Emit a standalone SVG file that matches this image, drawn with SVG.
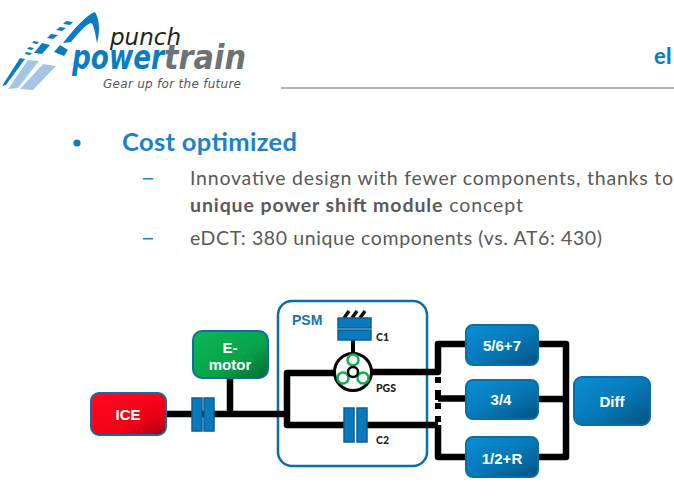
<svg xmlns="http://www.w3.org/2000/svg" width="674" height="499" viewBox="0 0 674 499">
<defs>
<linearGradient id="gb" x1="0" y1="0" x2="1" y2="1"><stop offset="0" stop-color="#0a8fd6"/><stop offset=".55" stop-color="#0677b5"/><stop offset="1" stop-color="#04507f"/></linearGradient>
<linearGradient id="gr" x1="0" y1="0" x2="1" y2="1"><stop offset="0" stop-color="#ff0a22"/><stop offset=".65" stop-color="#f00018"/><stop offset="1" stop-color="#a80012"/></linearGradient>
<linearGradient id="gg" x1="0" y1="0" x2="1" y2="1"><stop offset="0" stop-color="#0bb855"/><stop offset=".6" stop-color="#08a24a"/><stop offset="1" stop-color="#046a32"/></linearGradient>
</defs>
<style>
text{font-family:"Lato","Liberation Sans",sans-serif}
.t{font-size:19.5px;fill:#595959}
.d{fill:#1b82c8}
.n{font-family:"Liberation Sans",Arial,sans-serif;font-weight:700;font-size:15px;fill:#fff;text-anchor:middle}
.s{font-weight:900;font-size:10.5px;fill:#222}
.box{stroke:#0b6ea6;stroke-width:2;fill:url(#gb)}
.w{fill:none;stroke:#000;stroke-width:6.5;stroke-linejoin:round}
.cl{fill:#0a79bd;stroke:#0b5f92;stroke-width:1.5}
.l1{fill:#0a7cc4}.l2{fill:#a3c6e6}
.lg{font-family:"DejaVu Sans",sans-serif;font-style:italic}
</style>
<rect width="674" height="499" fill="#fff"/>
<g id="logo">
<path class="l1" d="M63 43 C74 29 86 15 95 12 C100 20 100 33 97 43 C95 33 94 24 91 23 C85 25 77 35 71 42Z"/>
<path class="l1" d="M66 21l7 1-3 3-7-1zM60 27l6 1-4 3-6-1zM51 34l7 1-5 4-6-1zM42 43l8 2-8 9-8-1zM34 41l5 1-2 2-5-1zM29 47l5 1-2 2-5-1zM26 52l6 1-2 2-5-1zM20 58l5 1-19 26-4 1z"/>
<path class="l1" d="M60 45l8 5-4 6-10-4z"/>
<path class="l2" d="M28 60l11 1-21 27-10 1zM43 64l13 2-23 24-13-1z"/>
<text class="lg" x="110" y="45" font-size="23" fill="#222">punch</text>
<text class="lg" x="72" y="69" font-size="33" font-weight="700" fill="#0a7cc4" textLength="92" lengthAdjust="spacingAndGlyphs">power</text>
<text class="lg" x="164" y="69" font-size="33" font-weight="700" fill="#6f7275" textLength="82" lengthAdjust="spacingAndGlyphs">train</text>
<text class="lg" x="103" y="88" font-size="12" fill="#555" textLength="138">Gear up for the future</text>
</g>
<rect x="281" y="87" width="393" height="2" fill="#b5b5b5"/>
<text x="654" y="64" font-size="22" font-weight="700" fill="#0a7cc4">eI</text>
<g id="content">
<circle cx="77" cy="143" r="3.6" fill="#0a7cc4"/>
<text x="122" y="151" font-size="25.5" font-weight="700" fill="#1b82c8" textLength="175">Cost optimized</text>
<rect class="d" x="143" y="178" width="10" height="1.5"/>
<text class="t" x="190" y="185" textLength="483">Innovative design with fewer components, thanks to</text>
<text class="t" x="190" y="212" textLength="333"><tspan font-weight="700">unique power shift module</tspan> concept</text>
<rect class="d" x="143" y="238" width="10" height="1.5"/>
<text class="t" x="190" y="245" textLength="412">eDCT: 380 unique components (vs. AT6: 430)</text>
</g>
<g id="PSM">
<rect x="278" y="301" width="149" height="165" rx="14" fill="#fff" stroke="#0b6ea6" stroke-width="2.5"/>
<text x="292" y="325" font-size="14" font-weight="700" fill="#1673ab" style="font-family:'Liberation Sans',sans-serif">PSM</text>
</g>
<g id="connectors">
<path class="w" d="M167 414H287M230 379V414M287 414V373H335M287 413V425H344M365 425H438M372 372H438V344H467M438 425V457H467"/>
<path d="M435 377h6v6h-6zM435 390h6v10h-6zM435 403h6v6h-6zM435 416h6v6h-6z" fill="#000"/>
<path class="w" d="M438 398.500H466M537 344H566V457H537M537 399H566"/>
<path d="M353 340V354" stroke="#000" stroke-width="4"/>
</g>
<g id="clutch-input">
<rect class="cl" x="192" y="398" width="10" height="33"/>
<rect class="cl" x="204" y="398" width="10" height="33"/>
</g>
<g id="C1">
<path d="M344 318l5-7M352 318l5-7M360 318l5-7" stroke="#111" stroke-width="3.500"/>
<rect class="cl" x="338" y="318" width="33" height="10"/>
<rect class="cl" x="338" y="330" width="33" height="10"/>
<text class="s" x="376" y="341">C1</text>
</g>
<g id="PGS">
<circle cx="353" cy="372" r="18.500" fill="#fff" stroke="#000" stroke-width="3"/>
<g fill="none" stroke="#0bb050" stroke-width="2.500">
<circle cx="353" cy="360" r="5.500"/><circle cx="343" cy="378" r="5.500"/><circle cx="363" cy="378" r="5.500"/>
</g>
<circle cx="353" cy="372" r="5" fill="#fff" stroke="#000" stroke-width="2.500"/>
<text class="s" x="376" y="392">PGS</text>
</g>
<g id="C2">
<rect class="cl" x="344" y="408" width="10" height="34"/>
<rect class="cl" x="357" y="408" width="10" height="34"/>
<text class="s" x="376" y="444">C2</text>
</g>
<g id="ICE"><rect x="91" y="393" width="75" height="42" rx="8" fill="url(#gr)" stroke="#0b6ea6" stroke-width="2"/><text class="n" x="128" y="420">ICE</text></g>
<g id="E-motor"><rect x="193" y="331" width="75" height="47" rx="9" fill="url(#gg)" stroke="#0b6ea6" stroke-width="2"/><text class="n" x="230" y="353">E-</text><text class="n" x="230" y="370">motor</text></g>
<g id="g567"><rect class="box" x="466" y="325" width="72" height="40" rx="7"/><text class="n" x="502" y="351">5/6+7</text></g>
<g id="g34"><rect class="box" x="466" y="380" width="72" height="39" rx="7"/><text class="n" x="501" y="405">3/4</text></g>
<g id="g12R"><rect class="box" x="466" y="437" width="72" height="40" rx="7"/><text class="n" x="502" y="464">1/2+R</text></g>
<g id="Diff"><rect class="box" x="574" y="377" width="76" height="48" rx="8"/><text class="n" x="612" y="407">Diff</text></g>
</svg>
